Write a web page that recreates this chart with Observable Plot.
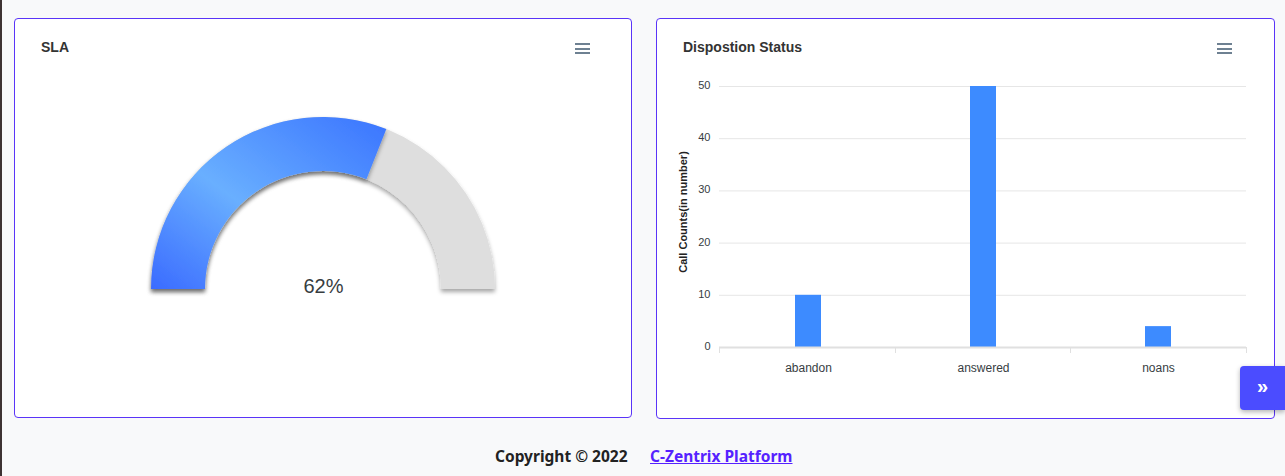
<!DOCTYPE html>
<html>
<head>
<meta charset="utf-8">
<script src="https://cdn.jsdelivr.net/npm/d3@7"></script>
<script src="https://cdn.jsdelivr.net/npm/@observablehq/plot@0.6"></script>
<style>
  html, body { margin: 0; padding: 0; }
  body { width: 1285px; height: 476px; background: #f8f9fa; position: relative; overflow: hidden; font-family: "Liberation Sans", Arial, sans-serif; }
  .strip { position: absolute; left: 0; top: 0; width: 2px; height: 476px; background: #3d3333; }
  .card { position: absolute; background: #fff; border: 1px solid #5a34f8; border-radius: 4px; box-sizing: border-box; }
  .title { position: absolute; font-weight: bold; font-size: 14px; color: #333; }
  .menu { position: absolute; width: 15px; }
  .menu span { display: block; height: 2px; background: #6e8192; margin-bottom: 2.5px; }
  .chart { position: absolute; }
  .footer { position: absolute; top: 445px; left: 0; width: 1285px; font-family: "Noto Sans", "Open Sans", sans-serif; font-weight: bold; font-size: 15.5px; color: #222; }
  .footer .copy { position: absolute; left: 495px; }
  .footer a { position: absolute; left: 650px; color: #5522ff; text-decoration: underline; }
  .btn { position: absolute; left: 1240px; top: 366px; width: 45px; height: 44px; background: #4b4cff; border-radius: 4px 0 0 4px; box-shadow: 0 2px 5px rgba(0,0,0,0.3); color: #fff; font-weight: bold; font-size: 20px; text-align: center; line-height: 40px; }
</style>
</head>
<body>
<div class="strip"></div>

<div class="card" style="left:14px; top:18px; width:618px; height:400px;">
  <div class="title" style="left:26px; top:20px;">SLA</div>
  <div class="menu" style="left:560px; top:24px;"><span></span><span></span><span></span></div>
  <div class="chart" id="gauge" style="left:0px; top:51px;"></div>
</div>

<div class="card" style="left:656px; top:18px; width:619px; height:401px;">
  <div class="title" style="left:26px; top:20px;">Dispostion Status</div>
  <div class="menu" style="left:560px; top:24px;"><span></span><span></span><span></span></div>
  <div class="chart" id="bars" style="left:0px; top:51px;"></div>
</div>

<div class="btn">»</div>

<div class="footer"><span class="copy">Copyright © 2022</span><a>C-Zentrix Platform</a></div>

<script>
// ---------- data ----------
const slaTitle = "SLA";
const slaPercent = 62;
const trackInnerRatio = 0.686;

const categories = ["abandon", "answered", "noans"];
const callCounts = [10, 50, 4];
const yTicks = [0, 10, 20, 30, 40, 50];
const yLabel = "Call Counts(in number)";

const fontFamily = "Liberation Sans, Arial, sans-serif";

// ---------- gauge ----------
function gaugeMark(index, scales) {
  const x = scales.x, y = scales.y;
  const cx = x(0), cy = y(0), r = x(1) - x(0), r0 = r * trackInnerRatio;
  const arc = d3.arc().innerRadius(r0).outerRadius(r);
  const g = d3.create("svg:g");
  const defs = g.append("defs");
  const grad = defs.append("linearGradient").attr("id", "slaGrad")
    .attr("x1", 0).attr("y1", 1).attr("x2", 1).attr("y2", 0);
  grad.append("stop").attr("offset", "0%").attr("stop-color", "#3a6bff");
  grad.append("stop").attr("offset", "44%").attr("stop-color", "#69afff");
  grad.append("stop").attr("offset", "100%").attr("stop-color", "#3a74ff");
  const f = defs.append("filter").attr("id", "gShadow")
    .attr("x", "-20%").attr("y", "-20%").attr("width", "140%").attr("height", "140%");
  f.append("feDropShadow").attr("dx", 0).attr("dy", 3).attr("stdDeviation", 2)
    .attr("flood-color", "#000").attr("flood-opacity", 0.35);
  const gg = g.append("g").attr("transform", `translate(${cx},${cy})`);
  gg.append("path")
    .attr("d", arc({startAngle: -Math.PI / 2, endAngle: Math.PI / 2}))
    .attr("fill", "#dedede").attr("filter", "url(#gShadow)");
  gg.append("path")
    .attr("d", arc({startAngle: -Math.PI / 2, endAngle: -Math.PI / 2 + Math.PI * slaPercent / 100}))
    .attr("fill", "url(#slaGrad)").attr("filter", "url(#gShadow)");
  return g.node();
}

const gauge = Plot.plot({
  width: 616, height: 330, margin: 0,
  style: {background: "transparent", fontFamily, overflow: "visible"},
  x: {domain: [-1, 1], range: [136, 480], axis: null},
  y: {domain: [0, 1], range: [219, 47], axis: null},
  marks: [
    gaugeMark,
    Plot.text([slaPercent], {x: 0, y: 0, text: d => d + "%", fontSize: 20, fill: "#373d3f", dy: -3})
  ]
});
document.getElementById("gauge").appendChild(gauge);

// ---------- bar chart ----------
const rows = categories.map((c, i) => ({status: c, count: callCounts[i]}));

function boundaryTicks(index, scales, values, dims) {
  const left = dims.marginLeft, right = dims.width - dims.marginRight;
  const base = dims.height - dims.marginBottom;
  const n = categories.length;
  const g = d3.create("svg:g").attr("stroke", "#e0e0e0").attr("stroke-width", 1);
  for (let i = 0; i <= n; i++) {
    const px = Math.round(left + (right - left) * i / n) + 0.5;
    g.append("line").attr("x1", px).attr("x2", px).attr("y1", base).attr("y2", base + 6);
  }
  return g.node();
}

const bars = Plot.plot({
  width: 616, height: 330,
  marginLeft: 62, marginRight: 27, marginTop: 16, marginBottom: 53,
  style: {background: "transparent", fontFamily, overflow: "visible"},
  x: {domain: categories, paddingInner: 0.852, paddingOuter: 0.426, axis: null},
  y: {domain: [0, 50], axis: null},
  marks: [
    Plot.ruleY(yTicks.slice(1), {stroke: "#e6e6e6", strokeWidth: 1}),
    Plot.barY(rows, {x: "status", y: "count", fill: "#3d8bff"}),
    Plot.ruleY([0], {stroke: "#e0e0e0", strokeWidth: 2}),
    boundaryTicks,
    Plot.text(yTicks, {y: d => d, frameAnchor: "left", dx: -9, dy: -1, textAnchor: "end", fontSize: 11, fill: "#373d3f", text: d => String(d)}),
    Plot.text(categories, {x: d => d, frameAnchor: "bottom", dy: 24, fontSize: 12, fill: "#373d3f", text: d => d}),
    Plot.text([yLabel], {frameAnchor: "left", textAnchor: "middle", rotate: -90, dx: -36, dy: -5, fontSize: 11, fontWeight: "bold", fill: "#222", text: d => d})
  ]
});
document.getElementById("bars").appendChild(bars);
</script>
</body>
</html>
